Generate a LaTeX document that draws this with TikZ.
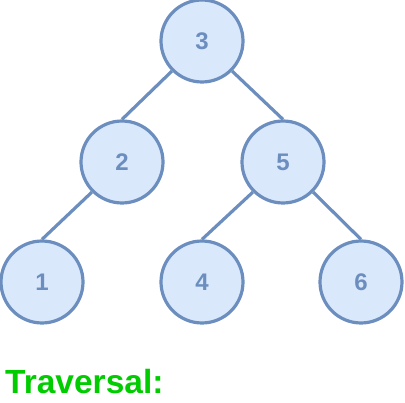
\documentclass[tikz,border=0pt]{standalone}
\usepackage{fontspec}
\setmainfont{Liberation Sans}
\usepackage{xcolor}
\usepackage{tikz}
\definecolor{nodefill}{HTML}{DAE8FC}
\definecolor{nodeline}{HTML}{6C8EBF}
\definecolor{travgreen}{HTML}{00CC00}
\tikzset{
  treenode/.style={circle, draw=nodeline, fill=nodefill, line width=3.2pt,
    minimum size=82pt, inner sep=0pt, text=nodeline,
    font=\fontsize{24}{24}\selectfont\bfseries},
  treeedge/.style={draw=nodeline, line width=3.2pt}
}

\begin{document}
\begin{tikzpicture}[x=1pt, y=-1pt]
  \useasboundingbox (0,0) rectangle (405,403);
  \node[treenode] (n3) at (202, 41) {3};
  \node[treenode] (n2) at (122,162) {2};
  \node[treenode] (n5) at (283,162) {5};
  \node[treenode] (n1) at (42, 282) {1};
  \node[treenode] (n4) at (202,282) {4};
  \node[treenode] (n6) at (361,282) {6};
  \draw[treeedge] (n3.south west) -- (n2.north);
  \draw[treeedge] (n3.south east) -- (n5.north);
  \draw[treeedge] (n2.south west) -- (n1.north);
  \draw[treeedge] (n5.south west) -- (n4.north);
  \draw[treeedge] (n5.south east) -- (n6.north);
  \node[anchor=base west, inner sep=0pt, text=travgreen,
    font=\fontsize{33.5}{33.5}\selectfont\bfseries] (trav) at (5,394) {Traversal:};
\end{tikzpicture}
\end{document}
